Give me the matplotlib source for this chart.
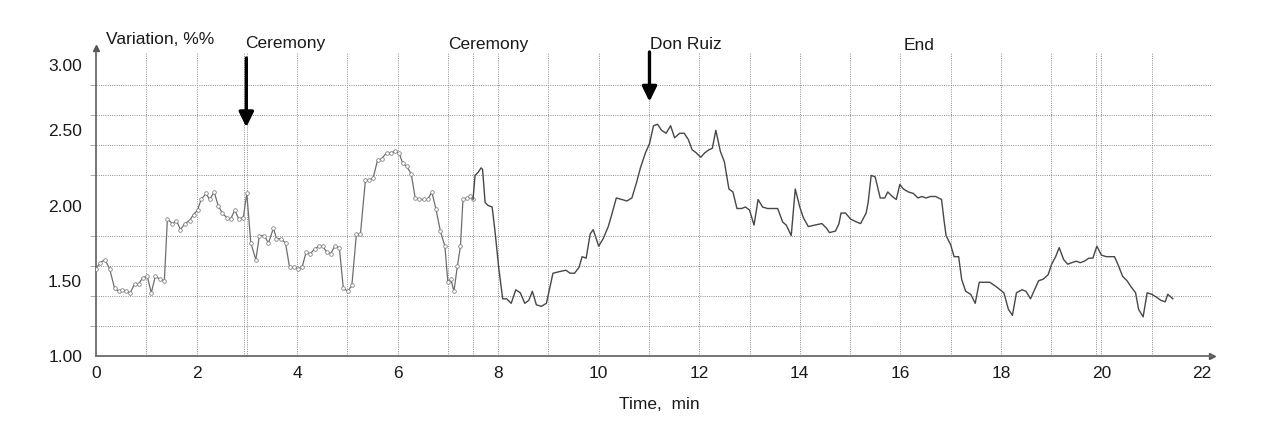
import numpy as np
import matplotlib
matplotlib.use('Agg')
import matplotlib.pyplot as plt
from matplotlib.transforms import ScaledTranslation

plt.rcParams['font.family'] = ['Liberation Sans', 'DejaVu Sans']

# Time (min) and variation (%%)
# first stretch was drawn with small open circles on every sample
time_a = [0.00, 0.08, 0.18, 0.27, 0.37, 0.45, 0.52, 0.60, 0.68, 0.77,
          0.85, 0.93, 1.02, 1.10, 1.18, 1.27, 1.36, 1.42, 1.52, 1.60,
          1.68, 1.77, 1.86, 1.94, 2.02, 2.09, 2.19, 2.26, 2.35, 2.43,
          2.51, 2.60, 2.68, 2.76, 2.84, 2.93, 3.00, 3.08, 3.18, 3.25,
          3.35, 3.43, 3.53, 3.59, 3.68, 3.77, 3.85, 3.93, 4.02, 4.10,
          4.18, 4.26, 4.35, 4.43, 4.51, 4.59, 4.67, 4.75, 4.84, 4.92,
          5.01, 5.09, 5.18, 5.26, 5.36, 5.44, 5.51, 5.60, 5.68, 5.78,
          5.87, 5.95, 6.03, 6.10, 6.18, 6.27, 6.35, 6.43, 6.52, 6.60,
          6.68, 6.76, 6.85, 6.94, 7.00, 7.06, 7.12, 7.19, 7.25, 7.30,
          7.38, 7.44, 7.50]
var_a = [1.58, 1.62, 1.64, 1.58, 1.45, 1.43, 1.44, 1.43, 1.42, 1.48,
         1.48, 1.52, 1.53, 1.42, 1.53, 1.51, 1.50, 1.91, 1.88, 1.90,
         1.84, 1.88, 1.90, 1.94, 1.97, 2.04, 2.08, 2.04, 2.09, 2.00,
         1.95, 1.92, 1.91, 1.97, 1.91, 1.92, 2.08, 1.75, 1.64, 1.80,
         1.80, 1.75, 1.85, 1.78, 1.78, 1.75, 1.59, 1.59, 1.58, 1.59,
         1.69, 1.68, 1.71, 1.73, 1.73, 1.69, 1.68, 1.73, 1.72, 1.45,
         1.43, 1.47, 1.81, 1.81, 2.17, 2.17, 2.18, 2.30, 2.31, 2.35,
         2.35, 2.36, 2.35, 2.28, 2.26, 2.21, 2.05, 2.04, 2.04, 2.04,
         2.09, 1.98, 1.83, 1.73, 1.49, 1.51, 1.43, 1.60, 1.73, 2.04,
         2.05, 2.06, 2.04]

# rest of the record, plain line
time_b = [7.50, 7.54, 7.60, 7.66, 7.69, 7.74, 7.80, 7.88, 7.94, 8.01,
          8.09, 8.17, 8.26, 8.35, 8.44, 8.53, 8.61, 8.68, 8.76, 8.86,
          8.96, 9.09, 9.21, 9.35, 9.43, 9.52, 9.61, 9.67, 9.75, 9.83,
          9.89, 10.00, 10.09, 10.19, 10.26, 10.35, 10.46, 10.56, 10.66, 10.75,
          10.83, 10.93, 11.01, 11.09, 11.17, 11.25, 11.34, 11.43, 11.51, 11.61,
          11.70, 11.78, 11.86, 11.94, 12.03, 12.11, 12.19, 12.26, 12.33, 12.42,
          12.50, 12.59, 12.67, 12.75, 12.84, 12.92, 13.00, 13.09, 13.17, 13.26,
          13.36, 13.46, 13.56, 13.66, 13.73, 13.83, 13.91, 14.00, 14.07, 14.17,
          14.30, 14.44, 14.53, 14.59, 14.71, 14.78, 14.82, 14.91, 15.01, 15.13,
          15.21, 15.32, 15.36, 15.42, 15.50, 15.60, 15.69, 15.75, 15.84, 15.92,
          15.99, 16.06, 16.16, 16.26, 16.35, 16.43, 16.51, 16.60, 16.70, 16.82,
          16.87, 16.91, 17.00, 17.07, 17.16, 17.22, 17.30, 17.40, 17.49, 17.57,
          17.68, 17.78, 17.91, 18.06, 18.15, 18.23, 18.31, 18.42, 18.50, 18.59,
          18.67, 18.75, 18.84, 18.94, 19.01, 19.09, 19.16, 19.25, 19.33, 19.41,
          19.50, 19.58, 19.66, 19.75, 19.83, 19.91, 20.00, 20.10, 20.26, 20.34,
          20.42, 20.51, 20.59, 20.68, 20.74, 20.83, 20.91, 21.00, 21.10, 21.18,
          21.27, 21.32, 21.42]
var_b = [2.04, 2.20, 2.22, 2.25, 2.24, 2.02, 2.00, 1.99, 1.82, 1.59,
         1.38, 1.38, 1.35, 1.44, 1.42, 1.35, 1.37, 1.43, 1.34, 1.33,
         1.35, 1.55, 1.56, 1.57, 1.55, 1.55, 1.59, 1.66, 1.65, 1.81,
         1.84, 1.73, 1.78, 1.86, 1.94, 2.05, 2.04, 2.03, 2.05, 2.15,
         2.25, 2.35, 2.41, 2.53, 2.54, 2.50, 2.48, 2.53, 2.45, 2.48,
         2.48, 2.44, 2.37, 2.35, 2.32, 2.35, 2.37, 2.38, 2.50, 2.36,
         2.29, 2.11, 2.09, 1.98, 1.98, 1.99, 1.97, 1.87, 2.04, 1.99,
         1.98, 1.98, 1.98, 1.89, 1.87, 1.80, 2.11, 1.99, 1.92, 1.86,
         1.87, 1.88, 1.85, 1.82, 1.83, 1.88, 1.95, 1.95, 1.91, 1.89,
         1.88, 1.95, 2.02, 2.20, 2.19, 2.05, 2.05, 2.09, 2.06, 2.04,
         2.14, 2.11, 2.09, 2.08, 2.05, 2.06, 2.05, 2.06, 2.06, 2.04,
         1.90, 1.80, 1.74, 1.66, 1.66, 1.51, 1.43, 1.41, 1.35, 1.49,
         1.49, 1.49, 1.46, 1.42, 1.31, 1.27, 1.42, 1.44, 1.43, 1.38,
         1.44, 1.50, 1.51, 1.54, 1.61, 1.66, 1.72, 1.64, 1.61, 1.62,
         1.63, 1.62, 1.63, 1.65, 1.65, 1.73, 1.67, 1.66, 1.66, 1.60,
         1.53, 1.50, 1.46, 1.42, 1.31, 1.26, 1.42, 1.41, 1.39, 1.37,
         1.36, 1.41, 1.38]

# event labels and arrows
events = ['Ceremony', 'Ceremony', 'Don Ruiz', 'End']
event_label_x = [2.97, 7.01, 11.03, 16.07]
event_label_y = [3.078, 3.073, 3.073, 3.06]
arrow_x = [2.99, 11.01]
arrow_from = [2.98, 3.02]
arrow_to = [2.52, 2.69]

x_ticks = np.arange(0, 23, 2)
y_ticks = [1.0, 1.5, 2.0, 2.5, 3.0]
y_grid = np.arange(1.2, 3.01, 0.2)
x_grid = list(range(1, 22)) + [2.95, 7.5, 19.9]

W, H = 1262, 430
fig = plt.figure(figsize=(W / 100, H / 100), dpi=100)
ax = fig.add_axes([96 / W, 1 - 356 / H, (1212 - 96) / W, (356 - 52) / H])

ax.set_xlim(0, 22.2)
ax.set_ylim(1.0, 3.02)

# grid
for gx in x_grid:
    ax.axvline(gx, color='#8c8c8c', lw=0.7, ls=(0, (1, 1.3)), zorder=1)
ax.set_yticks(y_grid, minor=True)
ax.grid(which='minor', axis='y', color='#8c8c8c', lw=0.7, ls=(0, (1, 1.3)))
ax.tick_params(axis='y', which='minor', length=4, color='#aaaaaa', width=0.7)

# data
ax.plot(time_a, var_a, color='#6e6e6e', lw=0.9, marker='o', ms=2.6,
        mfc='white', mec='#7a7a7a', mew=0.55, zorder=3)
ax.plot(time_b, var_b, color='#474747', lw=1.0, zorder=3)

# axes look
for s in ['top', 'right']:
    ax.spines[s].set_visible(False)
for s in ['left', 'bottom']:
    ax.spines[s].set_color('#6a6a6a')
    ax.spines[s].set_linewidth(1.3)
ax.plot(1, 0, '>', transform=ax.transAxes, clip_on=False, ms=5, color='#555555')
ax.plot(0, 1 + 4 / 304, '^', transform=ax.transAxes, clip_on=False, ms=4, color='#555555')

ax.set_xticks(x_ticks)
ax.set_xticklabels([str(t) for t in x_ticks])
ax.set_yticks(y_ticks)
ax.set_yticklabels(['%.2f' % v for v in y_ticks])
ax.tick_params(axis='x', which='major', length=0, pad=7, labelsize=12.5, labelcolor='#1a1a1a')
ax.tick_params(axis='y', which='major', length=0, pad=10, labelsize=12.5, labelcolor='#1a1a1a')
# the top label sits a bit lower than its line in the original
top_lab = ax.yaxis.get_major_ticks()[-1].label1
top_lab.set_transform(top_lab.get_transform() + ScaledTranslation(0, -0.1, fig.dpi_scale_trans))

ax.set_xlabel('Time,  min', fontsize=12.5, color='#1a1a1a')
ax.xaxis.set_label_coords(0.505, -0.161)
ax.xaxis.label.set_verticalalignment('center')

ax.text(0.2, 3.10, 'Variation, %%', fontsize=12.5, color='#1a1a1a', va='center', ha='left')

for name, lx, ly in zip(events, event_label_x, event_label_y):
    ax.text(lx, ly, name, fontsize=12.5, color='#1a1a1a', va='center', ha='left')

for xa, y0, y1 in zip(arrow_x, arrow_from, arrow_to):
    ax.annotate('', xy=(xa, y1), xytext=(xa, y0),
                arrowprops=dict(arrowstyle='-|>,head_length=0.45,head_width=0.22',
                                color='black', lw=2.4, mutation_scale=20,
                                shrinkA=0, shrinkB=0),
                annotation_clip=False, zorder=5)

fig.savefig('out.png', dpi=100)
